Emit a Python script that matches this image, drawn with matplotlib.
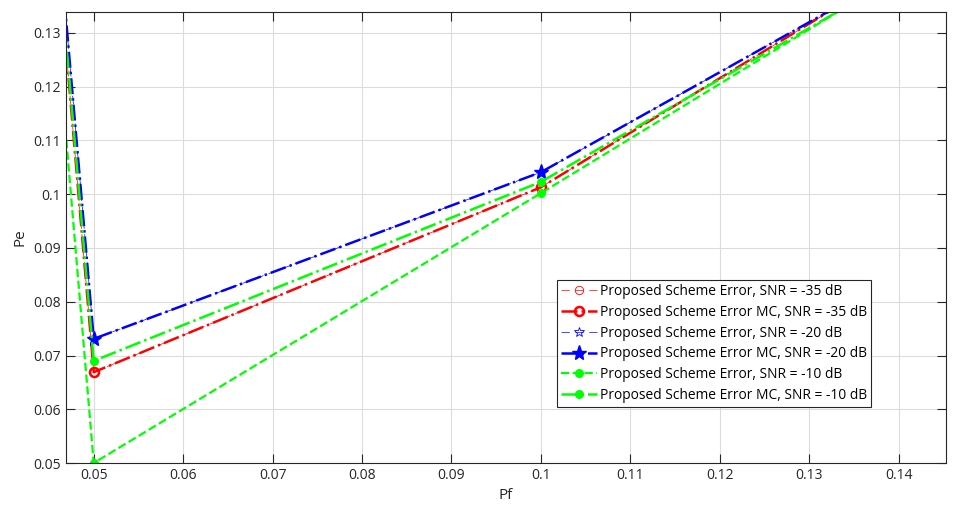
import matplotlib
matplotlib.use("Agg")
import matplotlib.pyplot as plt

plt.rcParams['font.family'] = ['Open Sans', 'DejaVu Sans']

# Pf points (only 0.05 and 0.1 fall inside the zoomed view)
pf = [0.01, 0.05, 0.1, 0.15]

pe_35 = [0.843, 0.0669, 0.1013, 0.152]
pe_35_mc = [0.843, 0.0669, 0.1013, 0.152]
pe_20 = [0.841, 0.0731, 0.1041, 0.1506]
pe_20_mc = [0.841, 0.0731, 0.1041, 0.1506]
pe_10 = [0.834, 0.0500, 0.1002, 0.151]
pe_10_mc = [0.837, 0.0690, 0.1023, 0.150]

labels = [
    "Proposed Scheme Error, SNR = -35 dB",
    "Proposed Scheme Error MC, SNR = -35 dB",
    "Proposed Scheme Error, SNR = -20 dB",
    "Proposed Scheme Error MC, SNR = -20 dB",
    "Proposed Scheme Error, SNR = -10 dB",
    "Proposed Scheme Error MC, SNR = -10 dB",
]

fig = plt.figure(figsize=(9.61, 5.11), dpi=100)
ax = fig.add_axes([0.0687, 0.0939, 0.9157, 0.8826])

thin_dash = (0, (12, 8))
ax.plot(pf, pe_35, color='#FF0000', linestyle=thin_dash, linewidth=0.5, marker='o',
        markersize=6, markerfacecolor='none', markeredgewidth=0.6, label=labels[0])
ax.plot(pf, pe_20, color='#0000FF', linestyle=thin_dash, linewidth=0.5, marker='*',
        markersize=7, markerfacecolor='none', markeredgewidth=0.6, label=labels[2])
ax.plot(pf, pe_35_mc, color='#FF0000', linestyle='-.', linewidth=1.8, marker='o',
        markersize=6.5, markerfacecolor='none', markeredgewidth=1.8, label=labels[1])
ax.plot(pf, pe_20_mc, color='#0000FF', linestyle='-.', linewidth=1.8, marker='*',
        markersize=11, label=labels[3])
ax.plot(pf, pe_10, color='#00FF00', linestyle='--', linewidth=1.6, marker='o',
        markersize=5.5, label=labels[4])
ax.plot(pf, pe_10_mc, color='#00FF00', linestyle='-.', linewidth=1.8, marker='o',
        markersize=5.5, label=labels[5])

ax.set_xlim(0.0469, 0.1453)
ax.set_ylim(0.05, 0.1339)
xt = [0.05, 0.06, 0.07, 0.08, 0.09, 0.1, 0.11, 0.12, 0.13, 0.14]
yt = [0.05, 0.06, 0.07, 0.08, 0.09, 0.1, 0.11, 0.12, 0.13]
ax.set_xticks(xt)
ax.set_xticklabels([f"{v:g}" for v in xt])
ax.set_yticks(yt)
ax.set_yticklabels([f"{v:g}" for v in yt])

ax.grid(True, color='#DCDCDC', linewidth=0.8)
ax.set_axisbelow(True)
ax.tick_params(direction='in', length=6.5, width=0.8, top=True, right=True,
               labelsize=10, colors='#262626')
for s in ax.spines.values():
    s.set_color('#262626')
    s.set_linewidth(0.8)

ax.set_xlabel("Pf", fontsize=11, color='#262626')
ax.set_ylabel("Pe", fontsize=11, color='#262626')

# keep legend order as in the original figure
handles, labs = ax.get_legend_handles_labels()
order = [labs.index(l) for l in labels]
leg = ax.legend([handles[i] for i in order], [labs[i] for i in order],
                loc='lower left', bbox_to_anchor=(0.558, 0.124), fontsize=9.9,
                fancybox=False, framealpha=1, edgecolor='#262626',
                borderpad=0.3, labelspacing=0.42, handlelength=2.6,
                handletextpad=0.2, borderaxespad=0)
leg.get_frame().set_linewidth(0.8)

fig.savefig("out.png", dpi=100)
